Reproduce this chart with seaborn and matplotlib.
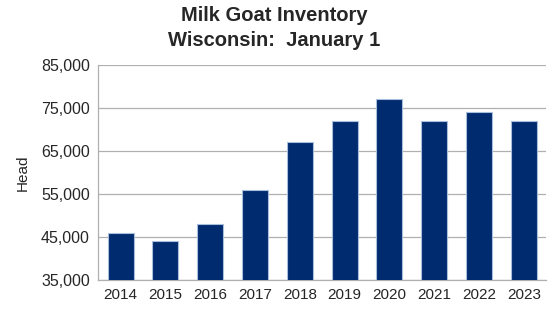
import numpy as np
import pandas as pd
import matplotlib
matplotlib.use('Agg')
import matplotlib.pyplot as plt
import seaborn as sns

years = ['2014', '2015', '2016', '2017', '2018', '2019', '2020', '2021', '2022', '2023']
head = [46000, 44000, 48000, 56000, 67000, 72000, 77000, 72000, 74000, 72000]
y_ticks = [35000, 45000, 55000, 65000, 75000, 85000]

sns.set_style("white")
plt.rcParams['font.family'] = ['Liberation Sans', 'DejaVu Sans']

df = pd.DataFrame({'year': years, 'head': head})

fig = plt.figure(figsize=(5.48, 3.10), dpi=100)
ax = fig.add_axes([0.179, 0.097, 0.818, 0.693])

sns.barplot(data=df, x='year', y='head', color='#002b6f', width=0.58,
            edgecolor='#a9bedc', linewidth=0.8, saturation=1, ax=ax, zorder=3)

ax.set_ylim(35000, 85000)
ax.set_yticks(y_ticks)
ax.set_yticklabels([f'{v:,}' for v in y_ticks], fontsize=11.5)
ax.set_xlim(-0.5, len(years) - 0.5)
ax.set_xticks(np.arange(len(years)))
ax.set_xticklabels(years, fontsize=11)
ax.tick_params(axis='x', length=0, pad=6)
ax.tick_params(axis='y', length=4, color='#b0b0b0', pad=2)

# tick marks between categories
ax.set_xticks(np.arange(len(years) + 1) - 0.5, minor=True)
ax.tick_params(axis='x', which='minor', length=4, color='#b0b0b0')

ax.grid(axis='y', color='#b0b0b0', linewidth=0.9, zorder=0)
ax.set_axisbelow(True)
for side in ['top', 'right']:
    ax.spines[side].set_visible(False)
for side in ['left', 'bottom']:
    ax.spines[side].set_color('#b0b0b0')
    ax.spines[side].set_linewidth(0.9)

ax.set_xlabel('')
ax.set_ylabel('Head', fontsize=11, labelpad=8)

fig.suptitle('Milk Goat Inventory\nWisconsin:  January 1', fontsize=14.5,
             fontweight='bold', y=0.98, linespacing=1.4)

fig.savefig('out.png', dpi=100)
